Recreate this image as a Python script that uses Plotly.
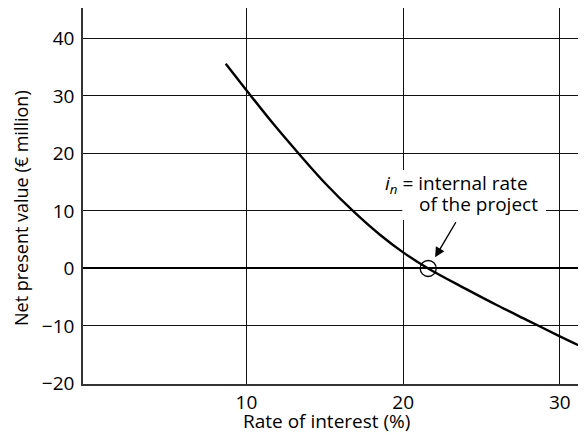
import plotly.graph_objects as go

rate = [8.68, 10, 11.7, 13.33, 15.1, 16.8, 18.5, 20, 21.6, 24, 26, 28, 30, 31.7]
npv = [35.6, 31.0, 25.2, 20.0, 14.6, 10.0, 5.9, 2.8, 0.0, -3.55, -6.4, -9.1, -11.8, -14.0]
irr_x = [21.6]
irr_y = [0]
x_ticks = [10, 20, 30]
y_ticks = [-20, -10, 0, 10, 20, 30, 40]
y_ticktext = ["\u221220", "\u221210", "0", "10", "20", "30", "40"]

FONT = "Open Sans"

fig = go.Figure()
fig.add_trace(go.Scatter(x=rate, y=npv, mode="lines",
                         line=dict(color="black", width=2.4, shape="spline", smoothing=1.0),
                         hoverinfo="skip", showlegend=False))
fig.add_trace(go.Scatter(x=irr_x, y=irr_y, mode="markers",
                         marker=dict(symbol="circle-open", size=16, color="black", line=dict(width=1.3)),
                         showlegend=False))

# white label backgrounds that break the grid lines
fig.add_shape(type="rect", xref="x", yref="y", x0=18.72, x1=28.16, y0=12.61, y1=17.13,
              fillcolor="white", line=dict(width=0), layer="above")
fig.add_shape(type="rect", xref="x", yref="y", x0=19.95, x1=29.12, y0=8.43, y1=12.61,
              fillcolor="white", line=dict(width=0), layer="above")

fig.add_annotation(x=22.04, y=1.95, ax=23.42, ay=8.3, xref="x", yref="y", axref="x", ayref="y",
                   text="", showarrow=True, arrowhead=2, arrowsize=1.4, arrowwidth=1.4, arrowcolor="black")
fig.add_annotation(x=23.4, y=14.7, xref="x", yref="y",
                   text="<i>i</i><sub><i>n</i></sub> = internal rate",
                   showarrow=False, font=dict(family=FONT, size=19, color="black"))
fig.add_annotation(x=24.8, y=11.2, xref="x", yref="y", text="of the project",
                   showarrow=False, font=dict(family=FONT, size=19, color="black"))

fig.add_annotation(x=0.4845, y=-0.0984, xref="paper", yref="paper", text="Rate of interest (%)",
                   showarrow=False, xanchor="center", yanchor="middle",
                   font=dict(family=FONT, size=19, color="black"))
fig.add_annotation(x=-0.1233, y=0.468, xref="paper", yref="paper", text="Net present value (\u20ac million)",
                   showarrow=False, textangle=-90, xanchor="center", yanchor="middle",
                   font=dict(family=FONT, size=18, color="black"))

fig.update_layout(
    width=578, height=426,
    margin=dict(l=75, r=0, t=0, b=50),
    plot_bgcolor="white", paper_bgcolor="white",
    font=dict(family=FONT, size=19, color="black"),
    xaxis=dict(range=[-0.43, 31.67], tickvals=x_ticks, showgrid=True, gridcolor="#111", gridwidth=1.2,
               zeroline=False, showline=True, linecolor="#333", linewidth=1.5, mirror=True,
               ticks="", automargin=False, ticklabelstandoff=0),
    yaxis=dict(range=[-20.09, 45.3], tickvals=y_ticks, ticktext=y_ticktext,
               showgrid=True, gridcolor="#111", gridwidth=1.2,
               zeroline=True, zerolinecolor="black", zerolinewidth=1.6,
               showline=True, linecolor="#333", linewidth=1.5, ticks="",
               automargin=False, ticklabelstandoff=3),
)

fig.write_html("out.html")
